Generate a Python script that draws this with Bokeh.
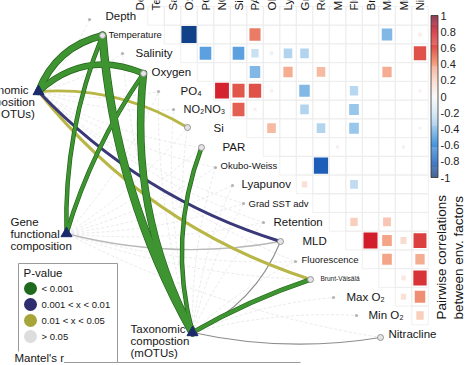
import numpy as np
from bokeh.plotting import figure
from bokeh.models import Range1d, ColumnDataSource
from bokeh.core.properties import value
from bokeh.embed import file_html
from bokeh.resources import INLINE

FONT = "Liberation Sans"

# ---------------- DATA ----------------
factors = ["Depth", "Temperature", "Salinity", "Oxygen", "PO₄", "NO₂NO₃", "Si", "PAR",
           "Okubo-Weiss", "Lyapunov", "Grad SST adv", "Retention", "MLD", "Fluorescence",
           "Brunt-Väisälä", "Max O₂", "Min O₂", "Nitracline"]

# pairwise correlations between environmental factors (upper triangle, non-blank cells)
corr_row = ["Temperature", "Temperature", "Temperature", "Temperature",
            "Salinity", "Salinity", "Salinity", "Salinity", "Salinity", "Salinity", "Salinity",
            "Oxygen", "Oxygen", "Oxygen", "Oxygen",
            "PO₄", "PO₄", "PO₄", "PO₄", "PO₄", "PO₄", "PO₄",
            "NO₂NO₃", "NO₂NO₃", "NO₂NO₃", "NO₂NO₃",
            "Si", "Si", "Si", "Si",
            "PAR", "PAR",
            "Okubo-Weiss",
            "Lyapunov", "Lyapunov",
            "Retention", "Retention",
            "MLD", "MLD", "MLD", "MLD",
            "Fluorescence", "Fluorescence",
            "Brunt-Väisälä", "Brunt-Väisälä",
            "Max O₂", "Max O₂",
            "Min O₂"]
corr_col = ["Oxygen", "PAR", "Max O₂", "Nitracline",
            "PO₄", "Si", "PAR", "Okubo-Weiss", "Lyapunov", "Grad SST adv", "Nitracline",
            "PAR", "Lyapunov", "Retention", "Max O₂",
            "NO₂NO₃", "Si", "PAR", "Okubo-Weiss", "Grad SST adv", "Fluorescence", "Nitracline",
            "Si", "PAR", "Grad SST adv", "Fluorescence",
            "Okubo-Weiss", "Retention", "Fluorescence", "Nitracline",
            "MLD", "Min O₂",
            "Retention",
            "Grad SST adv", "Fluorescence",
            "Fluorescence", "Max O₂",
            "Brunt-Väisälä", "Max O₂", "Min O₂", "Nitracline",
            "Max O₂", "Nitracline",
            "Min O₂", "Nitracline",
            "Min O₂", "Nitracline",
            "Nitracline"]
corr_val = [-0.93, 0.50, -0.45, 0.05,
            -0.55, -0.55, -0.22, -0.05, -0.30, -0.30, 0.62,
            -0.45, 0.35, 0.30, 0.35,
            0.78, 0.60, 0.62, 0.04, -0.45, -0.28, 0.03,
            0.58, 0.04, -0.30, -0.38,
            0.30, -0.30, -0.38, 0.03,
            0.04, 0.04,
            -0.82,
            0.12, -0.25,
            0.22, 0.25,
            0.80, 0.38, 0.15, 0.68,
            0.38, 0.35,
            0.08, 0.72,
            0.12, 0.45,
            0.22]

# Mantel tests: community matrices vs environmental factors
species = ["Taxonomic composition (OTUs)", "Gene functional composition", "Taxonomic compostion (mOTUs)"]
mantel_species = ["Taxonomic composition (OTUs)"] * 5 + ["Gene functional composition"] * 3 + \
                 ["Taxonomic compostion (mOTUs)"] * 6
mantel_env = ["Temperature", "Oxygen", "Si", "MLD", "Brunt-Väisälä",
              "Temperature", "Oxygen", "MLD",
              "Temperature", "Oxygen", "PAR", "Brunt-Väisälä", "MLD", "Nitracline"]
mantel_p = ["< 0.001", "< 0.001", "0.01 < x < 0.05", "0.001 < x < 0.01", "0.01 < x < 0.05",
            "< 0.001", "< 0.001", "> 0.05",
            "< 0.001", "< 0.001", "< 0.001", "< 0.001", "> 0.05", "> 0.05"]
mantel_r = [0.42, 0.36, 0.20, 0.22, 0.22,
            0.22, 0.22, 0.10,
            0.50, 0.44, 0.22, 0.25, 0.08, 0.09]
# faint non-significant links
ns_species = ["Taxonomic compostion (mOTUs)"] * 11 + ["Gene functional composition"] * 10 + \
             ["Taxonomic composition (OTUs)"] * 9
ns_env = ["Salinity", "PO₄", "NO₂NO₃", "Si", "Okubo-Weiss", "Lyapunov", "Grad SST adv", "Retention",
          "Fluorescence", "Max O₂", "Min O₂",
          "PO₄", "Si", "PAR", "Okubo-Weiss", "Lyapunov", "Grad SST adv", "Retention", "Fluorescence",
          "Brunt-Väisälä", "Nitracline",
          "Depth", "Salinity", "PO₄", "NO₂NO₃", "PAR", "Okubo-Weiss", "Grad SST adv", "Retention",
          "Fluorescence"]

p_levels = ["< 0.001", "0.001 < x < 0.01", "0.01 < x < 0.05", "> 0.05"]
cbar_ticks = [1.0, 0.8, 0.6, 0.4, 0.2, 0.0, -0.2, -0.4, -0.6, -0.8, -1.0]
cbar_labels = ["1", "0.8", "0.6", "0.4", "0.2", "0", "-0.2", "-0.4", "-0.6", "-0.8", "-1"]

# ---------------- LAYOUT / STYLE ----------------
W, H = 472, 365
X0, DX, Y0, DY = 139.0, 16.5, 15.3, 18.73   # grid -> screen


def gx(px):
    return (px - X0) / DX


def gy(py):
    return (py - Y0) / DY


p_colors = {"< 0.001": "#2f7f24", "0.001 < x < 0.01": "#3a3878",
            "0.01 < x < 0.05": "#b8b646", "> 0.05": "#a8a8a8"}
legend_colors = ["#1f6a1c", "#2f2d6e", "#a6a53a", "#dddddd"]

anchors = [(-1.0, "#0a2f6b"), (-0.8, "#1f63c0"), (-0.6, "#4a95dc"), (-0.4, "#93c3ea"),
           (-0.2, "#d0e4f4"), (0.0, "#f7f7f7"), (0.2, "#fad3c3"), (0.4, "#f3a080"),
           (0.6, "#e2574c"), (0.8, "#d21c2b"), (1.0, "#6b001f")]


def hex2rgb(h):
    return np.array([int(h[i:i + 2], 16) for i in (1, 3, 5)], dtype=float)


def cmap(v):
    v = max(-1.0, min(1.0, v))
    for (a, ca), (b, cb) in zip(anchors[:-1], anchors[1:]):
        if a <= v <= b:
            t = (v - a) / (b - a)
            c = hex2rgb(ca) * (1 - t) + hex2rgb(cb) * t
            return "#%02x%02x%02x" % tuple(int(round(x)) for x in c)
    return anchors[-1][1]


# env node positions and label positions (screen px of the original layout)
node_px = [(89, 19), (102, 35), (122, 53), (143, 73), (158, 91), (173, 109), (187, 127),
           (201, 147), (215, 167), (232, 185), (243, 203), (263, 222), (280, 241), (295, 261),
           (310, 279), (333, 297), (356, 315), (380, 337)]
label_left = [105, 108, 135, 151, 180, 183, 213, 222, 220, 241, 248, 273, 302, 301, 320, 346, 368, 388]
label_size = ["11.5px", "9.5px", "11.5px", "11.5px", "11.5px", "11px", "11.5px", "11.5px", "9.5px",
              "11.5px", "9.5px", "11.5px", "11.5px", "9.5px", "6.5px", "11.5px", "11.5px", "11.5px"]
species_px = {"Taxonomic composition (OTUs)": (38, 91),
              "Gene functional composition": (66, 233),
              "Taxonomic compostion (mOTUs)": (192, 332)}
curv = [-0.26, -0.32, -0.16, 0.13, 0.15, -0.105, -0.08, 0.11, -0.11, -0.153, -0.16, -0.05, 0.2, 0.096]
ns_curv = {"Taxonomic compostion (mOTUs)": -0.08, "Gene functional composition": 0.08,
           "Taxonomic composition (OTUs)": 0.1}

p = figure(width=W, height=H, x_range=Range1d(gx(0), gx(W)), y_range=Range1d(gy(H), gy(0)),
           output_backend="svg", toolbar_location=None, min_border=0,
           x_axis_location=None, y_axis_location=None)
p.xgrid.visible = False
p.ygrid.visible = False
p.outline_line_color = None
p.background_fill_color = "white"

# ---- heatmap grid ----
gxs, gys = [], []
n = len(factors)
for r in range(n):
    for c in range(r + 1, n):
        gxs.append(c)
        gys.append(r)
p.rect(x=gxs, y=gys, width=1, height=1, fill_color=None, line_color="#ececec", line_width=0.8)

cx = [factors.index(c) for c in corr_col]
cy = [factors.index(r) for r in corr_row]
cs = [0.95 * np.sqrt(abs(v)) for v in corr_val]
p.rect(x=cx, y=cy, width=cs, height=cs, fill_color=[cmap(v) for v in corr_val], line_color=None)


# ---- mantel edges ----
def ctrl(p0, p1, k):
    (x0, y0), (x1, y1) = p0, p1
    dx, dy = x1 - x0, y1 - y0
    return (x0 + x1) / 2 + k * (-dy), (y0 + y1) / 2 + k * dx


def edge_src(sp_list, env_list, ks, widths, colors):
    d = dict(x0=[], y0=[], x1=[], y1=[], cx=[], cy=[], w=[], col=[])
    for s, e, k, w, col in zip(sp_list, env_list, ks, widths, colors):
        a = species_px[s]
        b = node_px[factors.index(e)]
        cc = ctrl(a, b, k)
        d["x0"].append(gx(a[0])); d["y0"].append(gy(a[1]))
        d["x1"].append(gx(b[0])); d["y1"].append(gy(b[1]))
        d["cx"].append(gx(cc[0])); d["cy"].append(gy(cc[1]))
        d["w"].append(w); d["col"].append(col)
    return ColumnDataSource(d)


ns = edge_src(ns_species, ns_env, [ns_curv[s] for s in ns_species], [0.8] * len(ns_species),
              ["#e4e4e4"] * len(ns_species))
p.quadratic(x0="x0", y0="y0", x1="x1", y1="y1", cx="cx", cy="cy", line_width="w",
            line_color="col", line_dash="3 2", source=ns)

order = {"> 0.05": 0, "0.01 < x < 0.05": 1, "0.001 < x < 0.01": 2, "< 0.001": 3}
idx = sorted(range(len(mantel_env)), key=lambda i: (order[mantel_p[i]], mantel_r[i]))
for level in ["> 0.05", "0.01 < x < 0.05", "0.001 < x < 0.01", "< 0.001"]:
    ii = [i for i in idx if mantel_p[i] == level]
    widths = [14 * mantel_r[i] for i in ii]
    if level == "< 0.001":
        src_o = edge_src([mantel_species[i] for i in ii], [mantel_env[i] for i in ii],
                         [curv[i] for i in ii], [w + 1.4 for w in widths], ["#24631a"] * len(ii))
        p.quadratic(x0="x0", y0="y0", x1="x1", y1="y1", cx="cx", cy="cy", line_width="w",
                    line_color="col", line_cap="round", source=src_o)
        src = edge_src([mantel_species[i] for i in ii], [mantel_env[i] for i in ii],
                       [curv[i] for i in ii], widths, ["#3f9432"] * len(ii))
    else:
        cols = [p_colors[level]] * len(ii)
        if level == "> 0.05":
            cols = ["#b9b9b9" if mantel_r[i] > 0.095 else "#8d8d8d" for i in ii]
        src = edge_src([mantel_species[i] for i in ii], [mantel_env[i] for i in ii],
                       [curv[i] for i in ii], widths, cols)
    p.quadratic(x0="x0", y0="y0", x1="x1", y1="y1", cx="cx", cy="cy", line_width="w",
                line_color="col", line_cap="round", source=src)

# ---- env nodes ----
connected = set(mantel_env)
cn = [i for i, f in enumerate(factors) if f in connected]
un = [i for i, f in enumerate(factors) if f not in connected]
p.scatter(x=[gx(node_px[i][0]) for i in un], y=[gy(node_px[i][1]) for i in un], size=3.2,
          fill_color="#b4b4b4", line_color=None)
p.scatter(x=[gx(node_px[i][0]) for i in cn], y=[gy(node_px[i][1]) for i in cn], size=6,
          fill_color="#e4e4e4", line_color="#8a8a8a", line_width=0.9)

# ---- env labels ----
lab = ColumnDataSource(dict(x=[gx(v) for v in label_left], y=list(range(n)), t=factors, fs=label_size))
p.text(x="x", y="y", text="t", text_font_size="fs", text_font=value(FONT), text_align="left",
       text_baseline="middle", text_color="#161616", source=lab)

# column labels (rotated, running off the top edge as in the original crop)
p.text(x=list(range(n)), y=[gy(10)] * n, text=factors, angle=np.pi / 2, text_font=value(FONT),
       text_font_size="11.5px", text_align="left", text_baseline="middle", text_color="#161616")

# ---- species nodes ----
p.scatter(x=[gx(species_px[s][0]) for s in species], y=[gy(species_px[s][1]) for s in species],
          marker="triangle", size=11, fill_color="#1b2a6b", line_color="#1b2a6b")
sp_text = ["Taxonomic\ncomposition\n(16S OTUs)", "Gene\nfunctional\ncomposition", "Taxonomic\ncompostion\n(mOTUs)"]
sp_lx = [-27, 10, 130]
sp_ly = [101, 233, 340]
p.text(x=[gx(v) for v in sp_lx], y=[gy(v) for v in sp_ly], text=sp_text, text_font=value(FONT),
       text_font_size="11.5px", text_align="left", text_baseline="middle", text_line_height=1.0,
       text_color="#161616")

# ---- P-value legend ----
p.quad(left=[gx(18)], right=[gx(117)], top=[gy(263)], bottom=[gy(362)], fill_color=None,
       line_color="#9a9a9a", line_width=1)
p.line(x=[gx(117), gx(300)], y=[gy(362), gy(362)], line_color="#9a9a9a", line_width=1)
p.text(x=[gx(23)], y=[gy(272)], text=["P-value"], text_font=value(FONT), text_font_size="11.5px",
       text_baseline="middle", text_color="#161616")
leg_y = [288, 304, 320, 336]
p.scatter(x=[gx(30)] * 4, y=[gy(v) for v in leg_y], size=13, fill_color=legend_colors, line_color=None)
p.text(x=[gx(41)] * 4, y=[gy(v) for v in leg_y], text=p_levels, text_font=value(FONT),
       text_font_size="9.5px", text_baseline="middle", text_color="#161616")
p.text(x=[gx(14)], y=[gy(357)], text=["Mantel's r"], text_font=value(FONT), text_font_size="11.5px",
       text_baseline="middle", text_color="#161616", background_fill_color="white")

# ---- color bar ----
ve = np.linspace(-1, 1, 161)
p.quad(left=gx(430.5), right=gx(437.5), bottom=[gy(96 - 81 * v) for v in ve[:-1]],
       top=[gy(96 - 81 * v) for v in ve[1:]], fill_color=[cmap((a + b) / 2) for a, b in zip(ve[:-1], ve[1:])],
       line_color=None)
p.quad(left=[gx(430.5)], right=[gx(437.5)], bottom=[gy(177)], top=[gy(15)], fill_color=None,
       line_color="#333333", line_width=0.8)
p.text(x=[gx(440)] * len(cbar_ticks), y=[gy(96 - 81 * v) for v in cbar_ticks], text=cbar_labels,
       text_font=value(FONT), text_font_size="11px", text_baseline="middle", text_color="#222222")
p.text(x=[gx(440.5), gx(457.5)], y=[gy(319), gy(319)],
       text=["Pairwise correlations", "between env. factors"], angle=np.pi / 2, text_font=value(FONT),
       text_font_size="13.5px", text_align="left", text_baseline="middle", text_color="#161616")

open("out.html", "w").write(file_html(p, INLINE))
